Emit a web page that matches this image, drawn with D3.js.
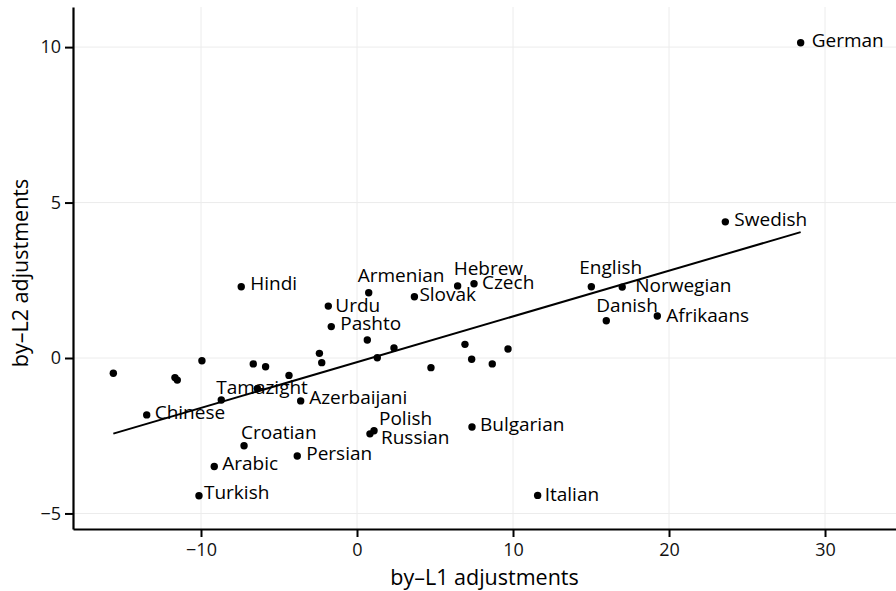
<!DOCTYPE html>
<html>
<head>
<meta charset="utf-8">
<script src="https://cdn.jsdelivr.net/npm/d3@7"></script>
<style>
  html, body { margin: 0; padding: 0; background: #fff; }
  svg { display: block; font-family: "Open Sans", sans-serif; }
</style>
</head>
<body>
<svg id="chart" width="896" height="591"></svg>
<script>
// Languages with a label: by-L1 and by-L2 adjustments
const labelledNames = ["German", "Swedish", "English", "Norwegian", "Danish", "Afrikaans",
  "Hebrew", "Czech", "Slovak", "Armenian", "Urdu", "Pashto", "Hindi", "Tamazight",
  "Azerbaijani", "Chinese", "Croatian", "Persian", "Arabic", "Turkish", "Polish",
  "Russian", "Bulgarian", "Italian"];
const labelledL1 = [28.44, 23.61, 15.02, 17.0, 15.98, 19.25,
  6.45, 7.5, 3.68, 0.75, -1.84, -1.65, -7.42, -8.70,
  -3.61, -13.48, -7.24, -3.83, -9.15, -10.13, 1.09,
  0.83, 7.37, 11.58];
const labelledL2 = [10.14, 4.38, 2.29, 2.28, 1.20, 1.35,
  2.32, 2.39, 1.97, 2.10, 1.67, 1.01, 2.29, -1.35,
  -1.38, -1.83, -2.82, -3.15, -3.49, -4.43, -2.34,
  -2.44, -2.22, -4.42];

// Remaining languages, plotted without a label
const otherL1 = [-15.62, -11.67, -11.52, -9.94, -6.65, -5.86, -4.36, -6.39, -2.41,
  -2.26, 0.66, 1.30, 2.37, 4.74, 6.92, 7.35, 8.67, 9.68];
const otherL2 = [-0.49, -0.63, -0.71, -0.09, -0.19, -0.28, -0.56, -0.98, 0.15,
  -0.15, 0.58, 0.01, 0.32, -0.31, 0.44, -0.04, -0.19, 0.29];

const xTicks = [-10, 0, 10, 20, 30];
const yTicks = [-5, 0, 5, 10];
const xTitle = "by\u2013L1 adjustments";
const yTitle = "by\u2013L2 adjustments";

// Where each label sits relative to its point (text start, vertical centre)
const labelPlacement = {
  German: [11, -2], Swedish: [9, -2], English: [-12, -19], Norwegian: [13, -2],
  Danish: [-10, -15], Afrikaans: [9, -1], Hebrew: [-4, -18], Czech: [8, -1.5],
  Slovak: [5, -2], Armenian: [-11, -17], Urdu: [7, -1], Pashto: [9, -3],
  Hindi: [9, -3], Tamazight: [-5, -13], Azerbaijani: [8.5, -4], Chinese: [8, -3],
  Croatian: [-3, -13], Persian: [9, -3], Arabic: [8, -3], Turkish: [5, -3],
  Polish: [5, -12], Russian: [11, 3], Bulgarian: [8, -3], Italian: [7, -1]
};

const labelled = labelledNames.map((n, i) => ({ name: n, x: labelledL1[i], y: labelledL2[i] }));
const others = otherL1.map((v, i) => ({ x: v, y: otherL2[i] }));
const all = labelled.concat(others);

const svg = d3.select("#chart");
const panel = { left: 73, right: 896, top: 7, bottom: 529 };

const x = d3.scaleLinear().domain([-18.205, 34.55]).range([panel.left, panel.right]);
const y = d3.scaleLinear().domain([-5.5, 11.29]).range([panel.bottom, panel.top]);

// faint panel grid
const grid = svg.append("g").attr("stroke", "#ececec").attr("stroke-width", 1);
grid.selectAll(".gx").data(xTicks).join("line")
  .attr("x1", d => x(d)).attr("x2", d => x(d)).attr("y1", panel.top).attr("y2", panel.bottom);
grid.selectAll(".gy").data(yTicks).join("line")
  .attr("x1", panel.left).attr("x2", panel.right).attr("y1", d => y(d)).attr("y2", d => y(d));

// least-squares fit over the range of the data
const mx = d3.mean(all, d => d.x), my = d3.mean(all, d => d.y);
const slope = d3.sum(all, d => (d.x - mx) * (d.y - my)) / d3.sum(all, d => (d.x - mx) ** 2);
const intercept = my - slope * mx;
const [xmin, xmax] = d3.extent(all, d => d.x);
svg.append("line")
  .attr("x1", x(xmin)).attr("y1", y(intercept + slope * xmin))
  .attr("x2", x(xmax)).attr("y2", y(intercept + slope * xmax))
  .attr("stroke", "#000").attr("stroke-width", 2);

// points
svg.append("g").selectAll("circle").data(all).join("circle")
  .attr("cx", d => x(d.x)).attr("cy", d => y(d.y)).attr("r", 3.7).attr("fill", "#000");

// labels
svg.append("g").selectAll("text").data(labelled).join("text")
  .attr("x", d => x(d.x) + labelPlacement[d.name][0])
  .attr("y", d => y(d.y) + labelPlacement[d.name][1])
  .attr("dy", "0.35em")
  .attr("font-size", 19).attr("fill", "#000")
  .text(d => d.name);

// axes
const minusFormat = d => String(d).replace("-", "\u2212");
const xAxis = svg.append("g").attr("transform", `translate(0,${panel.bottom})`)
  .call(d3.axisBottom(x).tickValues(xTicks).tickSize(8).tickSizeOuter(0).tickFormat(minusFormat));
const yAxis = svg.append("g").attr("transform", `translate(${panel.left},0)`)
  .call(d3.axisLeft(y).tickValues(yTicks).tickSize(8).tickSizeOuter(0).tickFormat(minusFormat));
[xAxis, yAxis].forEach(g => {
  g.select(".domain").attr("stroke", "#000").attr("stroke-width", 2.2);
  g.selectAll(".tick line").attr("stroke", "#000").attr("stroke-width", 2);
  g.selectAll(".tick text").attr("font-size", 18).attr("font-family", "Open Sans, sans-serif")
    .attr("fill", "#111");
});
xAxis.selectAll(".tick text").attr("y", 14);
yAxis.selectAll(".tick text").attr("x", -12);

// axis titles
svg.append("text").attr("x", (panel.left + panel.right) / 2).attr("y", 585)
  .attr("text-anchor", "middle").attr("font-size", 21.5).attr("fill", "#000").text(xTitle);
svg.append("text").attr("transform", `translate(28,${(panel.top + panel.bottom) / 2 + 5}) rotate(-90)`)
  .attr("text-anchor", "middle").attr("font-size", 21.5).attr("fill", "#000").text(yTitle);
</script>
</body>
</html>
